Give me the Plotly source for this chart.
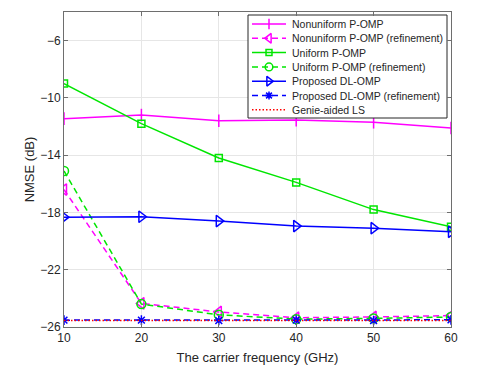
import plotly.graph_objects as go

freq = [10, 20, 30, 40, 50, 60]
nonuni = [-11.45, -11.2, -11.6, -11.55, -11.7, -12.1]
nonuni_ref = [-16.4, -24.35, -24.95, -25.35, -25.3, -25.2]
uni = [-9.0, -11.8, -14.2, -15.9, -17.8, -19.0]
uni_ref = [-15.1, -24.4, -25.15, -25.45, -25.4, -25.3]
dl = [-18.33, -18.3, -18.6, -18.95, -19.1, -19.35]
dl_ref = [-25.52, -25.52, -25.55, -25.52, -25.55, -25.5]
genie = [-25.55, -25.55, -25.55, -25.55, -25.55, -25.55]

names = ["Nonuniform P-OMP", "Nonuniform P-OMP (refinement)", "Uniform P-OMP",
         "Uniform P-OMP (refinement)", "Proposed DL-OMP",
         "Proposed DL-OMP (refinement)", "Genie-aided LS"]

mag = "#ff00ff"
grn = "#00e600"
blu = "#0000ff"
red = "#ff0000"
FONT = "Liberation Sans, Arial, sans-serif"
DASH = "6px,4px"
DOT = "1.5px,2px"

# style per series: colour, dash, marker symbol, marker size
styles = [
    (mag, "solid", "line-ns-open", 9),
    (mag, DASH, "triangle-left-open", 10),
    (grn, "solid", "square-open", 7),
    (grn, DASH, "circle-open", 9),
    (blu, "solid", "triangle-right-open", 10),
    (blu, DASH, "asterisk-open", 8),
    (red, DOT, None, 0),
]
series = [nonuni, nonuni_ref, uni, uni_ref, dl, dl_ref, genie]

fig = go.Figure()
for y, name, (c, d, sym, sz) in zip(series, names, styles):
    if sym is None:
        fig.add_trace(go.Scatter(x=freq, y=y, name=name, mode="lines",
                                 line=dict(color=c, width=1.5, dash=d)))
    else:
        fig.add_trace(go.Scatter(
            x=freq, y=y, name=name, mode="lines+markers",
            line=dict(color=c, width=1.5, dash=d),
            marker=dict(symbol=sym, size=sz, color=c, line=dict(color=c, width=1.5)),
        ))

# hand-made legend (matlab style, compact rows) on a pixel-scaled overlay axis,
# drawn as traces so it sits on top of the data
lg_left, lg_top, lg_right, lg_bottom = 248, 15, 447, 118
row0, row_h = 24, 14.3
fig.add_trace(go.Scatter(
    x=[lg_left, lg_right, lg_right, lg_left, lg_left],
    y=[lg_top, lg_top, lg_bottom, lg_bottom, lg_top],
    xaxis="x2", yaxis="y2", mode="lines", fill="toself", fillcolor="white",
    line=dict(color="#262626", width=1), showlegend=False, hoverinfo="skip",
))
for i, (name, (c, d, sym, sz)) in enumerate(zip(names, styles)):
    yy = row0 + i * row_h
    fig.add_trace(go.Scatter(
        x=[252, 286], y=[yy, yy], xaxis="x2", yaxis="y2", mode="lines",
        line=dict(color=c, width=1.5, dash=d), showlegend=False, hoverinfo="skip",
    ))
    fig.add_annotation(x=290, y=yy, xref="x2", yref="y2", text=name, showarrow=False,
                       xanchor="left", yanchor="middle",
                       font=dict(family=FONT, size=10.5, color="#262626"))
    if sym is not None:
        fig.add_trace(go.Scatter(
            x=[269], y=[yy], xaxis="x2", yaxis="y2", mode="markers", showlegend=False,
            marker=dict(symbol=sym, size=sz * 0.85, color=c, line=dict(color=c, width=1.5)),
            hoverinfo="skip",
        ))

axis_common = dict(
    showgrid=True, gridcolor="#e6e6e6", gridwidth=1,
    showline=True, linecolor="#6e6e6e", linewidth=1, mirror="ticks",
    ticks="inside", ticklen=4, tickcolor="#6e6e6e",
    zeroline=False,
    tickfont=dict(family=FONT, size=12, color="#262626"),
)

fig.update_layout(
    xaxis=dict(range=[10, 60], tickvals=freq,
               title=dict(text="The carrier frequency (GHz)", standoff=8,
                          font=dict(family=FONT, size=13, color="#262626")),
               **axis_common),
    yaxis=dict(range=[-26, -4], tickvals=[-26, -22, -18, -14, -10, -6],
               title=dict(text="NMSE (dB)", standoff=2,
                          font=dict(family=FONT, size=13, color="#262626")),
               **axis_common),
    xaxis2=dict(overlaying="x", range=[64, 451], visible=False, fixedrange=True),
    yaxis2=dict(overlaying="y", range=[327, 12], visible=False, fixedrange=True),
    width=490, height=366,
    margin=dict(l=56, r=47, t=4, b=47),
    plot_bgcolor="white", paper_bgcolor="white",
    showlegend=False,
)

fig.write_html("out.html")
